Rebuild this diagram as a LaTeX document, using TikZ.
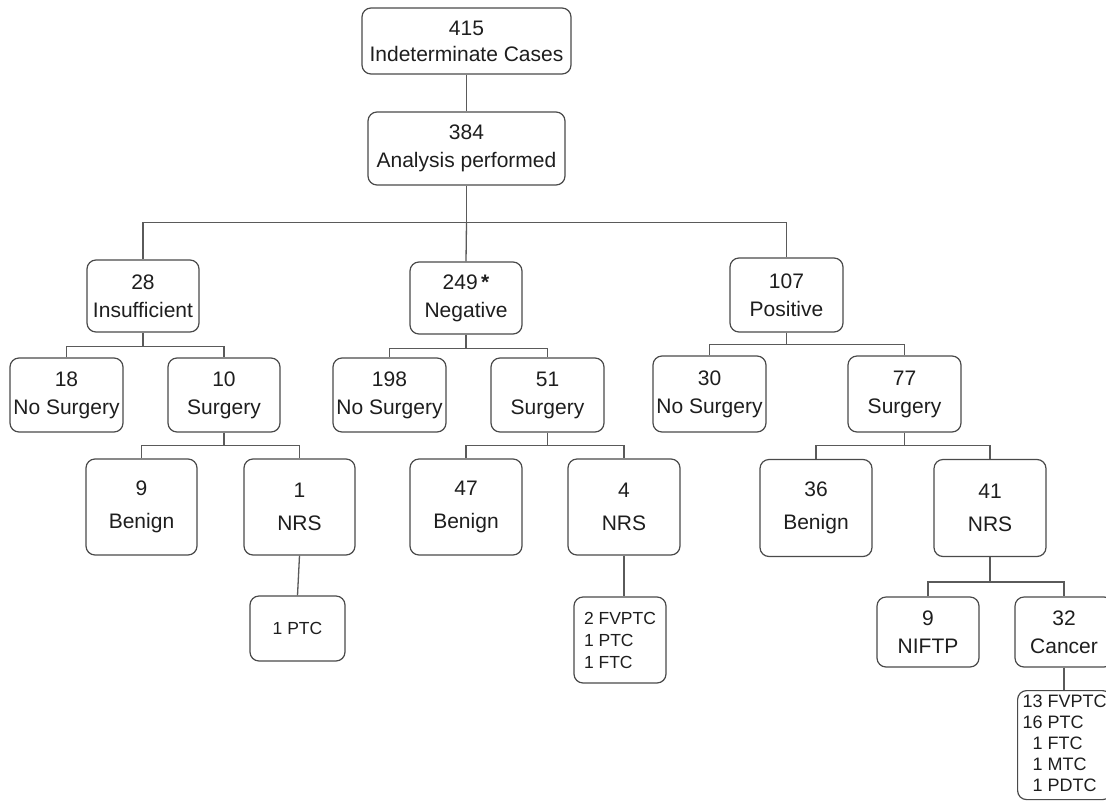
\documentclass[tikz,border=0pt]{standalone}
\usepackage{fontspec}
\setmainfont{Liberation Sans}
\definecolor{boxc}{HTML}{4A4A4A}
\definecolor{linec}{HTML}{5A5A5A}
\definecolor{txt}{HTML}{1E1E1E}
\begin{document}
\begin{tikzpicture}[x=1pt,y=-1pt,
  box/.style={draw=boxc, line width=1.2pt, rounded corners=9pt, inner sep=0pt, align=center, text=txt, font=\fontsize{21}{28}\selectfont},
  tall/.style={box, font=\fontsize{21}{33}\selectfont},
  listbox/.style={draw=boxc, line width=1.2pt, rounded corners=9pt, inner sep=0pt, align=left, text=txt, font=\fontsize{17.5}{22}\selectfont},
  conn/.style={draw=linec, line width=1.3pt}]
\clip (0,0) rectangle (1106,801);
\fill[white] (0,0) rectangle (1106,801);
% level 0-1
\node[box, minimum width=209pt, minimum height=66pt, font=\fontsize{21}{26}\selectfont] (top) at (466.5,41) {415\\Indeterminate Cases};
\node[box, minimum width=197pt, minimum height=73pt] (ana) at (466.5,148.5) {384\\Analysis performed};
% level 2
\node[box, minimum width=112pt, minimum height=72pt] (ins) at (143,296) {28\\Insufficient};
\node[box, minimum width=112pt, minimum height=72pt] (neg) at (466,298) {249\,\textbf{*}\\Negative};
\node[box, minimum width=113pt, minimum height=74pt] (pos) at (786.5,295) {107\\Positive};
% level 3
\node[box, minimum width=113pt, minimum height=74pt] (ns18) at (66.5,395) {18\\No Surgery};
\node[box, minimum width=112pt, minimum height=74pt] (s10) at (224,395) {10\\Surgery};
\node[box, minimum width=113pt, minimum height=74pt] (ns198) at (389.5,395) {198\\No Surgery};
\node[box, minimum width=113pt, minimum height=74pt] (s51) at (547.5,395) {51\\Surgery};
\node[box, minimum width=113pt, minimum height=76pt] (ns30) at (709.5,394) {30\\No Surgery};
\node[box, minimum width=113pt, minimum height=76pt] (s77) at (904.5,394) {77\\Surgery};
% level 4
\node[tall, minimum width=111pt, minimum height=96pt] (b9) at (141.5,507) {9\\Benign};
\node[tall, minimum width=111pt, minimum height=96pt] (nrs1) at (299.5,507) {1\\NRS};
\node[tall, minimum width=112pt, minimum height=96pt] (b47) at (466,507) {47\\Benign};
\node[tall, minimum width=112pt, minimum height=96pt] (nrs4) at (624,507) {4\\NRS};
\node[tall, minimum width=112pt, minimum height=97pt] (b36) at (816,508) {36\\Benign};
\node[tall, minimum width=112pt, minimum height=97pt] (nrs41) at (990,508) {41\\NRS};
% level 5
\node[listbox, minimum width=95pt, minimum height=65pt, align=center] (ptc1) at (297.5,628.5) {1 PTC};
\node[listbox, minimum width=92pt, minimum height=86pt] (l4) at (620,640) {2 FVPTC\\1 PTC\\1 FTC};
\node[box, minimum width=102pt, minimum height=70pt] (niftp) at (928,632) {9\\NIFTP};
\node[box, minimum width=98pt, minimum height=70pt] (cancer) at (1064,632) {32\\Cancer};
\node[listbox, anchor=north west, inner xsep=3pt, inner ysep=2pt, minimum width=94pt, font=\fontsize{18}{21}\selectfont] (l32) at (1017,690)
  {\begin{tabular}{@{}r@{ }l@{}}13&FVPTC\\16&PTC\\1&FTC\\1&MTC\\1&PDTC\end{tabular}};
% connectors
\draw[conn] (top.south) -- (ana.north);
\draw[conn] (ana.south) -- ++(0,37) coordinate (b1);
\draw[conn] (ins.north) |- (b1) -| (pos.north);
\draw[conn] (b1) -- (neg.north);
\draw[conn] (ins.south) -- ++(0,14) coordinate (b2);
\draw[conn] (ns18.north) |- (b2) -| (s10.north);
\draw[conn] (neg.south) -- ++(0,14) coordinate (b3);
\draw[conn] (ns198.north) |- (b3) -| (s51.north);
\draw[conn] (pos.south) -- ++(0,12) coordinate (b4);
\draw[conn] (ns30.north) |- (b4) -| (s77.north);
\draw[conn] (s10.south) -- ++(0,13) coordinate (b5);
\draw[conn] (b9.north) |- (b5) -| (nrs1.north);
\draw[conn] (s51.south) -- ++(0,13) coordinate (b6);
\draw[conn] (b47.north) |- (b6) -| (nrs4.north);
\draw[conn] (s77.south) -- ++(0,13) coordinate (b7);
\draw[conn] (b36.north) |- (b7) -| (nrs41.north);
\draw[conn] (nrs41.south) -- ++(0,25) coordinate (b8);
\draw[conn] (niftp.north) |- (b8) -| (cancer.north);
\draw[conn] (nrs1.south) -- (ptc1.north);
\draw[conn] (nrs4.south) -- (nrs4.south |- l4.north);
\draw[conn] (cancer.south) -- (cancer.south |- l32.north);
\end{tikzpicture}
\end{document}
